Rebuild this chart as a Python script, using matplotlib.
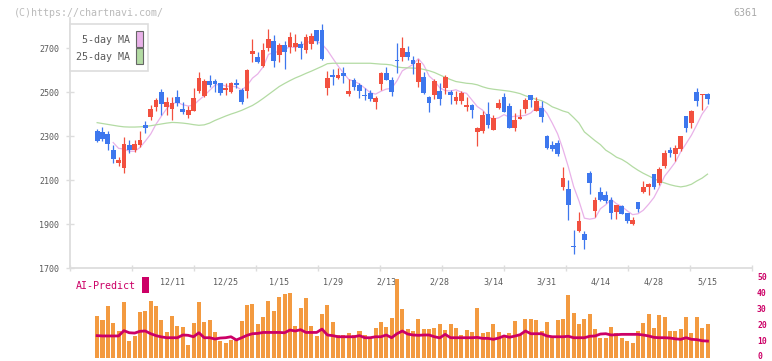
import numpy as np
import pandas as pd
import matplotlib
matplotlib.use("Agg")
import matplotlib.pyplot as plt
from matplotlib.patches import Rectangle

W, H = 772, 361

# daily candles (index 0 = first visible day)
opens = [2322, 2326, 2320, 2310, 2238, 2180, 2157, 2260, 2239, 2260,
         2351, 2388, 2435, 2501, 2435, 2425, 2479, 2425, 2398, 2416,
         2504, 2485, 2553, 2551, 2542, 2512, 2501, 2542, 2510, 2507,
         2674, 2660, 2620, 2701, 2733, 2670, 2715, 2706, 2704, 2720,
         2694, 2720, 2783, 2783, 2519, 2579, 2565, 2588, 2492, 2556,
         2533, 2488, 2497, 2456, 2538, 2588, 2556, 2645, 2660, 2683,
         2647, 2547, 2570, 2479, 2488, 2506, 2520, 2501, 2460, 2460,
         2433, 2442, 2320, 2324, 2401, 2329, 2429, 2479, 2438, 2338,
         2380, 2425, 2488, 2415, 2429, 2301, 2260, 2270, 2070, 2060,
         1800, 1870, 1856, 2133, 1961, 2048, 2033, 2010, 1956, 1983,
         1951, 1901, 2001, 2047, 2069, 2129, 2088, 2165, 2238, 2220,
         2242, 2392, 2360, 2501, 2489, 2492]
highs = [2324, 2333, 2342, 2323, 2262, 2204, 2297, 2283, 2282, 2326,
         2369, 2441, 2474, 2515, 2477, 2480, 2512, 2456, 2436, 2519,
         2592, 2560, 2579, 2560, 2542, 2542, 2547, 2560, 2520, 2606,
         2742, 2683, 2724, 2788, 2760, 2724, 2733, 2774, 2766, 2732,
         2765, 2770, 2783, 2810, 2597, 2606, 2610, 2615, 2560, 2565,
         2542, 2520, 2510, 2483, 2592, 2615, 2570, 2724, 2751, 2710,
         2665, 2651, 2592, 2483, 2560, 2542, 2579, 2510, 2506, 2506,
         2479, 2447, 2342, 2415, 2456, 2397, 2470, 2497, 2451, 2406,
         2424, 2474, 2488, 2479, 2460, 2306, 2279, 2283, 2160, 2101,
         1874, 1956, 1870, 2142, 2024, 2070, 2051, 2024, 1988, 1988,
         1951, 1933, 2001, 2097, 2088, 2129, 2160, 2238, 2251, 2260,
         2301, 2392, 2420, 2519, 2492, 2497]
lows = [2322, 2274, 2280, 2239, 2180, 2163, 2135, 2226, 2229, 2250,
        2316, 2375, 2413, 2398, 2395, 2374, 2436, 2401, 2383, 2416,
        2497, 2479, 2523, 2501, 2489, 2489, 2497, 2520, 2447, 2474,
        2639, 2633, 2617, 2689, 2615, 2638, 2607, 2679, 2689, 2653,
        2680, 2697, 2720, 2648, 2488, 2535, 2560, 2542, 2483, 2510,
        2474, 2465, 2460, 2424, 2510, 2556, 2483, 2588, 2642, 2647,
        2583, 2524, 2492, 2410, 2469, 2442, 2492, 2447, 2447, 2447,
        2415, 2383, 2256, 2315, 2338, 2329, 2424, 2410, 2338, 2324,
        2379, 2407, 2433, 2415, 2365, 2242, 2233, 2210, 2056, 1920,
        1765, 1865, 1789, 2038, 1933, 2007, 1997, 1924, 1924, 1947,
        1906, 1897, 1956, 2042, 2033, 2060, 2079, 2156, 2206, 2188,
        2233, 2320, 2338, 2438, 2420, 2447]
closes = [2324, 2280, 2289, 2267, 2198, 2192, 2265, 2239, 2265, 2283,
          2339, 2424, 2465, 2447, 2456, 2451, 2451, 2412, 2419, 2474,
          2565, 2551, 2535, 2538, 2497, 2521, 2541, 2532, 2457, 2601,
          2689, 2638, 2692, 2742, 2642, 2715, 2683, 2751, 2724, 2701,
          2751, 2756, 2733, 2653, 2565, 2568, 2579, 2574, 2506, 2524,
          2506, 2485, 2470, 2474, 2588, 2556, 2501, 2642, 2701, 2660,
          2629, 2633, 2497, 2451, 2551, 2470, 2570, 2488, 2479, 2497,
          2442, 2420, 2338, 2397, 2351, 2383, 2451, 2410, 2338, 2374,
          2389, 2465, 2465, 2460, 2388, 2247, 2242, 2220, 2110, 1988,
          1797, 1915, 1829, 2088, 2010, 2012, 2006, 1951, 1988, 1947,
          1915, 1919, 1969, 2069, 2083, 2069, 2151, 2224, 2224, 2247,
          2301, 2338, 2415, 2460, 2492, 2469]

# 25-day MA as drawn (from day 1 on)
ma25 = [2362, 2358, 2354, 2350, 2346, 2343, 2342, 2342, 2343, 2345,
        2348, 2352, 2356, 2360, 2363, 2362, 2360, 2357, 2353, 2350,
        2352, 2360, 2372, 2382, 2392, 2401, 2409, 2418, 2429, 2440,
        2455, 2472, 2490, 2508, 2526, 2540, 2553, 2565, 2575, 2586,
        2596, 2607, 2618, 2630, 2632, 2632, 2632, 2632, 2632, 2632,
        2632, 2632, 2630, 2628, 2627, 2624, 2615, 2612, 2611, 2610,
        2609, 2604, 2598, 2590, 2579, 2568, 2558, 2549, 2545, 2541,
        2539, 2534, 2525, 2518, 2514, 2511, 2508, 2505, 2500, 2494,
        2484, 2476, 2468, 2462, 2450, 2434, 2425, 2415, 2408, 2385,
        2360, 2320, 2300, 2280, 2262, 2237, 2222, 2205, 2195, 2180,
        2162, 2146, 2132, 2120, 2108, 2096, 2088, 2080, 2074, 2070,
        2074, 2082, 2097, 2110, 2128]

# AI-Predict panel (from day 1 on)
ai_bars = [26.1, 23.6, 32.3, 21.7, 16.7, 34.8, 10.4, 13.8, 28.6, 29.2,
           35.4, 32.3, 23.6, 16.1, 26.1, 19.8, 19.2, 7.9, 21.7, 34.8,
           22.3, 23.6, 16.1, 10.4, 9.2, 11.1, 11.1, 22.9, 32.9, 33.6,
           21.1, 25.4, 35.4, 29.2, 37.9, 39.8, 40.4, 19.8, 31.1, 37.3,
           19.8, 13.6, 27.3, 32.9, 22.3, 14.2, 14.2, 15.4, 14.2, 16.7,
           14.2, 12.3, 18.6, 22.3, 19.2, 24.8, 49.2, 30.4, 17.9, 16.7,
           24.2, 17.9, 17.9, 18.6, 21.1, 17.3, 21.1, 18.6, 14.2, 17.3,
           16.1, 31.1, 15.4, 16.1, 21.1, 16.1, 13.6, 15.4, 22.9, 14.8,
           24.2, 24.2, 23.6, 16.7, 22.3, 13.6, 23.6, 24.2, 39.2, 28.0,
           21.1, 24.2, 27.3, 17.9, 12.3, 12.3, 19.2, 15.4, 12.3, 10.4,
           9.2, 16.7, 21.7, 27.3, 18.6, 26.7, 25.4, 16.7, 16.7, 17.9,
           25.4, 15.4, 25.4, 18.6, 21.1]
ai_line = [13.8, 13.6, 13.6, 13.6, 13.6, 16.9, 15.6, 15.4, 16.5, 16.7,
           15.0, 13.8, 13.0, 12.5, 12.5, 12.5, 14.2, 14.0, 13.1, 15.6,
           12.5, 12.5, 11.7, 12.3, 12.5, 13.1, 11.1, 12.5, 14.0, 15.0,
           15.2, 15.8, 15.8, 15.8, 15.8, 15.6, 17.3, 16.7, 17.5, 15.8,
           15.8, 15.8, 17.9, 14.2, 13.8, 13.1, 13.1, 13.1, 13.1, 13.8,
           12.5, 12.5, 13.1, 13.1, 14.2, 12.5, 15.0, 16.7, 14.8, 14.2,
           14.0, 14.2, 14.2, 13.1, 12.4, 14.6, 12.5, 12.5, 12.5, 12.5,
           12.5, 12.7, 12.1, 12.1, 11.5, 12.3, 13.6, 12.8, 13.5, 14.4,
           16.7, 15.0, 15.0, 15.0, 13.6, 13.1, 13.1, 13.1, 13.4, 12.5,
           12.5, 12.5, 13.4, 13.6, 14.8, 15.0, 14.2, 14.4, 14.6, 14.6,
           14.6, 14.6, 14.2, 13.6, 12.7, 12.5, 12.5, 12.3, 11.8, 11.5,
           12.5, 11.5, 11.3, 10.6, 10.4]

date_labels = ["12/11", "12/25", "1/15", "1/29", "2/13", "2/28",
               "3/14", "3/31", "4/14", "4/28", "5/15"]
date_pos = [15, 25, 35, 45, 55, 65, 75, 85, 95, 105, 115]
price_ticks = [1700, 1900, 2100, 2300, 2500, 2700]
ai_ticks = [0, 10, 20, 30, 40, 50]

RED = "#f2503f"
BLUE = "#3d77ee"
PINK = "#e9b2e9"
GREEN = "#b3dba3"
ORANGE = "#f39a40"
MAGENTA = "#cc0066"
AXIS = "#dddddd"
TXT = "#5a5a5a"
MONO = "DejaVu Sans Mono"


def fx(x):
    return x / W


def fy(y):
    return 1 - y / H


fig = plt.figure(figsize=(W / 100, H / 100), dpi=100)
xlim = (-4.07, 123.31)

# price panel
ax = fig.add_axes([fx(70), fy(268.3), fx(752) - fx(70), fy(18) - fy(268.3)])
ax.set_xlim(*xlim)
ax.set_ylim(1700, 2837.7)

idx = np.arange(len(closes))
o = np.array(opens, dtype=float)
c = np.array(closes, dtype=float)
cols = np.where(c >= o, RED, BLUE)
ax.vlines(idx, lows, highs, colors=cols, lw=0.9, zorder=3)
ax.bar(idx, np.maximum(np.abs(c - o), 4), bottom=np.minimum(o, c),
       width=0.88, color=cols, lw=0, zorder=4)

ma5 = pd.Series(closes).rolling(5).mean()
ax.plot(idx, ma5, color=PINK, lw=0.9, zorder=2)
ax.plot(idx[1:], ma25, color=GREEN, lw=0.9, zorder=2)

for s in ["top", "right"]:
    ax.spines[s].set_visible(False)
for s in ["left", "bottom"]:
    ax.spines[s].set_color(AXIS)
    ax.spines[s].set_linewidth(1.3)

ax.set_yticks(price_ticks)
ax.set_yticklabels([str(t) for t in price_ticks], fontsize=6, family=MONO, color=TXT)
ax.tick_params(axis="y", direction="inout", length=5.8, width=1, color=AXIS, pad=5)

ax.set_xticks(date_pos)
ax.set_xticklabels(date_labels, fontsize=6, family=MONO, color=TXT)
ax.set_xticks(xlim[0] + np.arange(12) * 62 / 5.354, minor=True)
ax.tick_params(axis="x", which="major", length=0, pad=6.3)
ax.tick_params(axis="x", which="minor", direction="inout", length=5, width=1, color=AXIS)

# AI-Predict panel
ax2 = fig.add_axes([fx(70), fy(359), fx(752) - fx(70), fy(277.7) - fy(359)])
ax2.patch.set_alpha(0)
ax2.set_xlim(*xlim)
ax2.set_ylim(-0.8, 50)
ax2.bar(idx[1:], ai_bars, width=0.75, color=ORANGE, lw=0, zorder=2)
ax2.plot(idx[1:], ai_line, color=MAGENTA, lw=2.0, zorder=3)
for s in ax2.spines.values():
    s.set_visible(False)
ax2.set_xticks([])
ax2.set_yticks([])

# right-hand scale of the AI panel
for t in ai_ticks:
    ypx = 357.7 - 1.6 * t
    if t == 0:
        ypx = 356.6
    fig.text(fx(757), fy(ypx), str(t), fontsize=5.8, family=MONO, color=MAGENTA,
             fontweight="bold", ha="left", va="center")

fig.text(fx(75.5), fy(286), "AI-Predict", fontsize=7.2, family=MONO,
         color=MAGENTA, va="center", ha="left")
fig.add_artist(Rectangle((fx(142), fy(293)), 7 / W, 16 / H,
                         transform=fig.transFigure, fc=MAGENTA, ec="none"))

# legend box
fig.add_artist(Rectangle((fx(70), fy(71)), 78 / W, 47 / H, transform=fig.transFigure,
                         fc="white", ec=AXIS, lw=1.2, zorder=5))
fig.text(fx(129.5), fy(40), "5-day MA", fontsize=7.2, family=MONO, color=TXT,
         ha="right", va="center", zorder=6)
fig.text(fx(129.5), fy(57), "25-day MA", fontsize=7.2, family=MONO, color=TXT,
         ha="right", va="center", zorder=6)
fig.add_artist(Rectangle((fx(136), fy(47)), 7 / W, 16 / H, transform=fig.transFigure,
                         fc=PINK, ec="#666666", lw=0.8, zorder=6))
fig.add_artist(Rectangle((fx(136), fy(64)), 7 / W, 16 / H, transform=fig.transFigure,
                         fc=GREEN, ec="#666666", lw=0.8, zorder=6))

fig.text(fx(14), fy(12.5), "(C)https://chartnavi.com/", fontsize=7.2, family=MONO,
         color="#bbbbbb", va="center", ha="left")
fig.text(fx(757), fy(12.5), "6361", fontsize=7.2, family=MONO,
         color="#aaaaaa", va="center", ha="right")

fig.savefig("out.png", dpi=100)
